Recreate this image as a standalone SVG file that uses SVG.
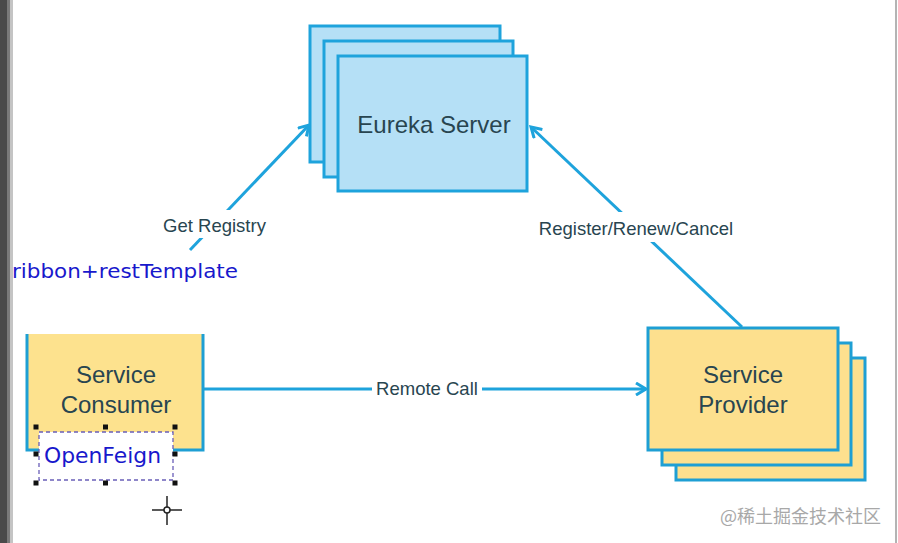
<svg xmlns="http://www.w3.org/2000/svg" width="898" height="543" viewBox="0 0 898 543">
<defs>
<style>
.eu{fill:#b5e0f6;stroke:#1ea3dc;stroke-width:3}
.sp{fill:#fde08e;stroke:#1e9fd4;stroke-width:3}
.lbl{font-family:"Liberation Sans",Arial,sans-serif;fill:#284550}
.big{font-size:24px}
.sm{font-size:18.5px}
.conn{stroke:#1ea3dc;stroke-width:3;fill:none}
.blue{font-family:"DejaVu Sans","Noto Sans",sans-serif;fill:#1818cc}
.h{fill:#111}
</style>
<marker id="arr" markerWidth="14" markerHeight="14" refX="11" refY="7" orient="auto" markerUnits="userSpaceOnUse">
<path d="M1,1 L11,7 L1,13" fill="none" stroke="#1ea3dc" stroke-width="3"/>
</marker>
</defs>
<rect width="898" height="543" fill="#ffffff"/>
<rect x="0" y="0" width="7" height="543" fill="#4a4a4a"/>
<rect x="7" y="0" width="3" height="543" fill="#7a7a7a"/>
<rect x="10" y="0" width="3" height="543" fill="#c4c4c4"/>
<rect x="895" y="0" width="2" height="543" fill="#b4b4b4"/>

<g id="connectors">
<line class="conn" x1="190" y1="250" x2="309" y2="125" marker-end="url(#arr)"/>
<line class="conn" x1="742" y1="327" x2="531" y2="127" marker-end="url(#arr)"/>
<line class="conn" x1="203" y1="389" x2="646" y2="389" marker-end="url(#arr)"/>
<rect x="158" y="210" width="113" height="28" fill="#fff"/>
<text class="lbl sm" x="214.5" y="232" text-anchor="middle">Get Registry</text>
<rect x="533" y="212" width="206" height="30" fill="#fff"/>
<text class="lbl sm" x="636" y="235" text-anchor="middle">Register/Renew/Cancel</text>
<rect x="372" y="376" width="110" height="26" fill="#fff"/>
<text class="lbl sm" x="427" y="395" text-anchor="middle">Remote Call</text>
</g>

<g id="eureka-server">
<rect class="eu" x="310" y="26" width="190" height="136"/>
<rect class="eu" x="324" y="41" width="189" height="136"/>
<rect class="eu" x="338" y="56" width="189" height="135"/>
<text class="lbl big" x="434" y="133" text-anchor="middle">Eureka Server</text>
</g>

<g id="service-consumer">
<rect x="27" y="334" width="176" height="116" fill="#fde28e"/>
<path d="M27,334 V450 H203 V334" fill="none" stroke="#1e9fd4" stroke-width="3"/>
<text class="lbl big" x="116" y="383" text-anchor="middle">Service</text>
<text class="lbl big" x="116" y="413" text-anchor="middle">Consumer</text>
</g>

<g id="service-provider">
<rect class="sp" x="676" y="358" width="189" height="122"/>
<rect class="sp" x="662" y="343" width="189" height="122"/>
<rect class="sp" x="648" y="328" width="190" height="122"/>
<text class="lbl big" x="743" y="383" text-anchor="middle">Service</text>
<text class="lbl big" x="743" y="413" text-anchor="middle">Provider</text>
</g>

<g id="ribbon-label">
<rect x="13" y="258" width="229" height="30" fill="#fff"/>
<text class="blue" x="12" y="278" font-size="20" textLength="226" lengthAdjust="spacingAndGlyphs">ribbon+restTemplate</text>
</g>

<g id="openfeign">
<rect x="39" y="432" width="134" height="48" fill="#fff" stroke="#6a5fb8" stroke-width="1.3" stroke-dasharray="4,3"/>
<text class="blue" x="44" y="463" font-size="21" textLength="117" lengthAdjust="spacingAndGlyphs">OpenFeign</text>
<rect class="h" x="33.5" y="424.5" width="5" height="5"/>
<rect class="h" x="103" y="424.5" width="5" height="5"/>
<rect class="h" x="172.5" y="424.5" width="5" height="5"/>
<rect class="h" x="33.5" y="451.5" width="5" height="5"/>
<rect class="h" x="172.5" y="451.5" width="5" height="5"/>
<rect class="h" x="33.5" y="480.5" width="5" height="5"/>
<rect class="h" x="103" y="480.5" width="5" height="5"/>
<rect class="h" x="172.5" y="480.5" width="5" height="5"/>
</g>

<g id="cursor" stroke="#222" stroke-width="1.5" fill="none">
<line x1="152" y1="510" x2="182" y2="510"/>
<line x1="167" y1="496" x2="167" y2="525"/>
<circle cx="167" cy="510" r="3" fill="#fff"/>
</g>

<text x="720" y="523" font-family="'Noto Sans CJK SC','Noto Sans',sans-serif" font-size="18" fill="#a8a8a8">@稀土掘金技术社区</text>
</svg>
